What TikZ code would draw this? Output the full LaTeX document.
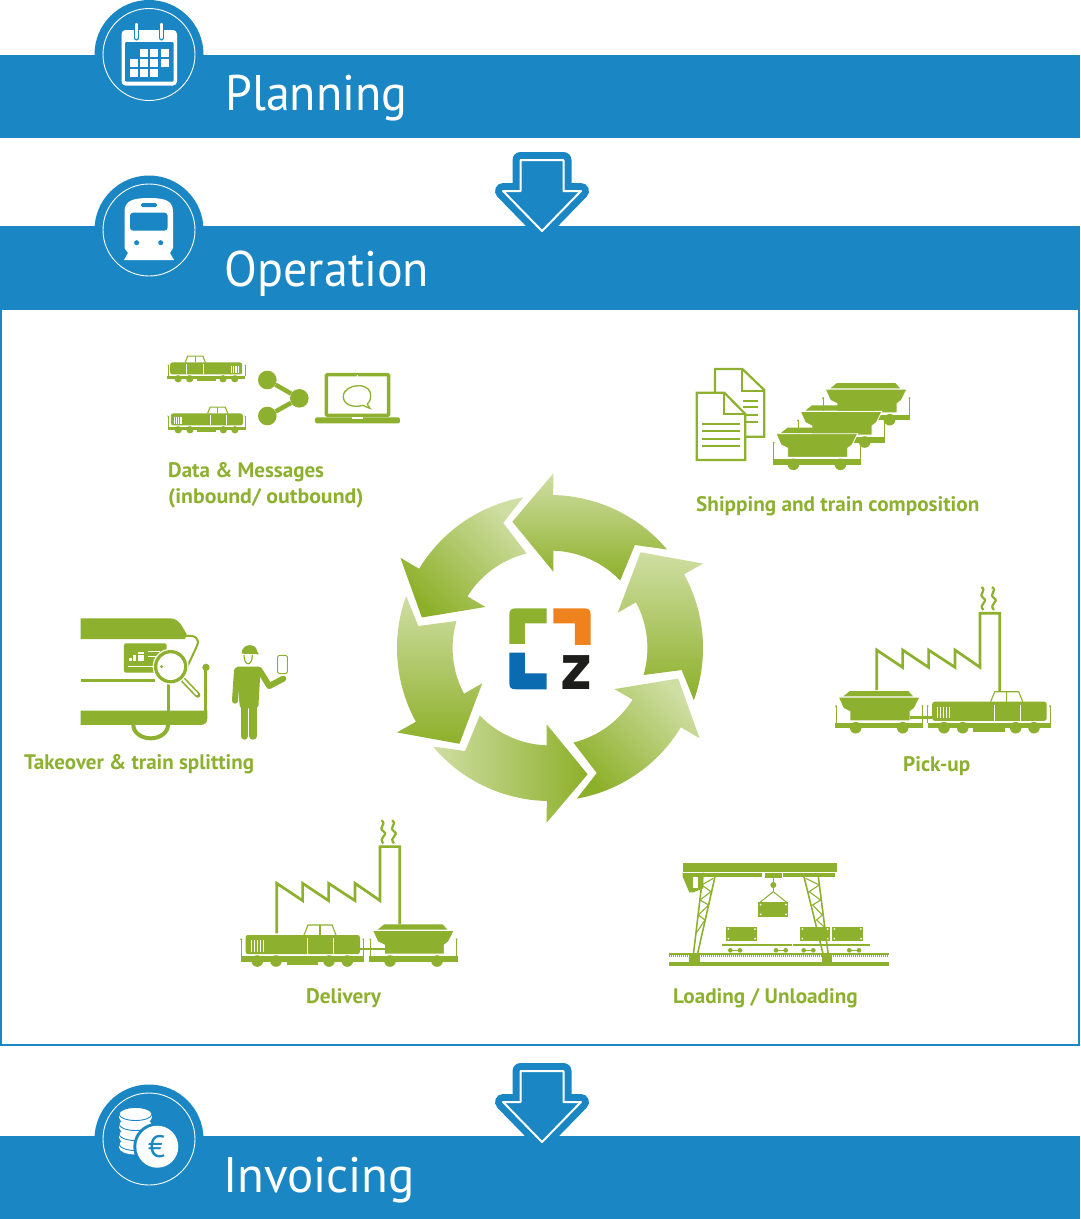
\documentclass[tikz,border=0pt]{standalone}
\usepackage{fontspec}
\setmainfont{PT Sans}
\newfontfamily\zfont{DejaVu Sans}
\usepackage{tikz}
\definecolor{lzblue}{RGB}{26,135,196}
\definecolor{lzgreen}{RGB}{141,176,46}
\definecolor{lzlight}{RGB}{207,222,163}
\definecolor{lzdark}{RGB}{141,176,42}
\definecolor{lzorange}{RGB}{240,130,30}
\definecolor{lzlogo}{RGB}{10,107,176}
\definecolor{lzblack}{RGB}{29,29,27}

\begin{document}
\begin{tikzpicture}[
  x=1pt, y=-1pt,
  hdrnode/.style={anchor=base west, inner sep=0pt, text=white, font=\fontsize{50}{50}\selectfont, xscale=0.96},
  lblnode/.style={anchor=base west, inner sep=0pt, text=lzgreen, font=\fontsize{21}{21}\selectfont\bfseries, xscale=1.01},
  barbox/.style={fill=lzblue},
  bubnode/.style={circle, fill=lzblue, minimum size=109pt, inner sep=0pt},
  ringnode/.style={circle, draw=white, line width=0.9pt, minimum size=92pt, inner sep=0pt},
  zoomed/.style={x=0.3333pt, y=-0.3333pt},
  downarw/.pic={
    \draw[lzblue, fill=lzblue, line width=16pt, line join=round]
      (-21.5,8) -- (21.5,8) -- (21.5,39) -- (39,39) -- (0,79) -- (-39,39) -- (-21.5,39) -- cycle;
    \draw[white, fill=lzblue, line width=2pt, line join=round]
      (-21.5,8) -- (21.5,8) -- (21.5,39) -- (39,39) -- (0,79) -- (-39,39) -- (-21.5,39) -- cycle;
  },
  loco/.pic={
    \fill[lzgreen, rounded corners=2.5pt] (5.5,-20) rectangle (120,-0.9);
    \fill[lzgreen] (1,0.9) rectangle (124.3,6.7);
    \fill[lzgreen] (46.7,6.7) rectangle (78,10);
    \foreach \wx in {17.3,36,89,107.3} {\fill[lzgreen] (\wx,6) circle[radius=5.8];}
    \foreach \wx in {1,123.3} {
      \draw[lzgreen, line width=0.8pt] (\wx,-15.7) -- (\wx,1.7);
      \fill[lzgreen] (\wx,-15.7) circle[radius=1];
    }
    \draw[lzgreen, line width=1.1pt] (64,-20) -- (68,-30) -- (92,-30) -- (96,-20);
    \draw[lzgreen, line width=1.1pt] (80,-30) -- (80,-20);
    \draw[white, line width=0.9pt] (67.7,-17) -- (67.7,-0.9);
    \draw[white, line width=0.9pt] (93.3,-17) -- (93.3,-0.9);
    \foreach \vx in {11,14,17,20,23} {\draw[white, line width=0.8pt] (\vx,-15) -- (\vx,-3.3);}
  },
  hopper/.pic={
    \draw[white, fill=lzgreen, line width=0.9pt] (3.3,-24.6) -- (85,-24.6) -- (79.3,-13.3) -- (75,-10) -- (75,-0.9)
      -- (15,-0.9) -- (15,-10) -- (8.3,-13.3) -- cycle;
    \fill[lzgreen] (15,-30.7) -- (73.3,-30.7) -- (78,-25.4) -- (8.3,-25.4) -- cycle;
    \fill[lzgreen] (0,0.9) rectangle (88.3,6.7);
    \foreach \wx in {20.7,67.7} {\fill[lzgreen] (\wx,6) circle[radius=5.8];}
    \foreach \wx in {1,87.3} {
      \draw[lzgreen, line width=0.8pt] (\wx,-15.7) -- (\wx,1.7);
      \fill[lzgreen] (\wx,-15.7) circle[radius=1];
    }
  },
  pics/factory/.style={code={
    \draw[lzgreen, line width=2.7pt, line join=miter] (0,#1) -- (0,0) -- (25.9,17.3) -- (25.9,0) -- (51.9,17.3) -- (51.9,0)
      -- (78.3,17.3) -- (78.3,0) -- (103.3,17.3) -- (103.3,-36.7) -- (123,-36.7) -- (123,41);
    \foreach \sx in {106.7,117.3} {
      \draw[lzgreen, line width=2.2pt] (\sx,-40) .. controls (\sx-6,-46) and (\sx+6,-48) .. (\sx,-52)
        .. controls (\sx-6,-56) and (\sx+4,-59) .. (\sx-2,-63);
    }
  }}
  ]

\useasboundingbox (0,0) rectangle (1080,1219);
\fill[white] (0,0) rectangle (1080,1219);

\draw[lzblue, line width=1.6pt] (1,309) rectangle (1079,1045);
\fill[barbox] (0,55) rectangle (1080,138);
\fill[barbox] (0,226) rectangle (1080,309);
\fill[barbox] (0,1136) rectangle (1080,1219);

\node[bubnode] (bub1) at (149,54.5) {};
\node[bubnode] (bub2) at (149,230) {};
\node[bubnode] (bub3) at (149,1139) {};
\node[ringnode] (ring1) at (bub1) {};
\node[ringnode] (ring2) at (bub2) {};
\node[ringnode] (ring3) at (bub3) {};

\node[hdrnode] (plan) at (225,110) {Planning};
\node[hdrnode] (oper) at (224.5,286.5) {Operation};
\node[hdrnode, xscale=1.02] (invo) at (223,1192.5) {Invoicing};

\pic at (542,152) {downarw};
\pic at (542,1063) {downarw};

\fill[white, rounded corners=4pt] (121.5,30) rectangle (177,85.5);
\fill[lzblue, rounded corners=1pt] (125,42) rectangle (173.5,81.5);
\foreach \cx/\cy in {140/49,150/49,160.5/49,130/59,140/59,150/59,160.5/59,130/69.3,140/69.3,150/69.3} {
  \fill[white] (\cx,\cy) rectangle (\cx+8.3,\cy+8);
}
\foreach \cx in {136.6,161.5} {
  \draw[lzblue, line width=5pt, line cap=round] (\cx,24) -- (\cx,38);
  \draw[white, line width=2.4pt, line cap=round] (\cx,24) -- (\cx,38);
}

\fill[white] (124.5,248) -- (124.5,212) .. controls (124.5,201) and (132,198) .. (149,198)
  .. controls (166,198) and (173,201) .. (173,212) -- (173,248) -- (170,253) -- (174,260) -- (124,260) -- (128,253) -- cycle;
\fill[lzblue, rounded corners=3pt] (130,212.7) rectangle (167.6,230.7);
\fill[lzblue, rounded corners=1.5pt] (141,203) rectangle (157,207);
\fill[lzblue] (136.6,242.7) circle[radius=2.5];
\fill[lzblue] (160.7,242.7) circle[radius=2.5];

\foreach \cy in {1144,1134,1124,1114} {
  \fill[white] (135.5,\cy+4) ellipse[x radius=16.2, y radius=6.5];
  \fill[white] (119.3,\cy) rectangle (151.7,\cy+4);
  \draw[lzblue, fill=white, line width=0.9pt] (135.5,\cy) ellipse[x radius=16.5, y radius=6.5];
}
\fill[lzblue] (157.3,1146.7) circle[radius=24];
\fill[white] (157.3,1146.7) circle[radius=21];
\node[text=lzblue, inner sep=0pt, font=\fontsize{31}{31}\selectfont] (euro) at (156.5,1146.7) {€};

\foreach \rot/\ang in {0/0,60/-45,120/0,180/90,240/-45,300/0} {
  \begin{scope}[shift={(550,648)}, x=1pt, y=1pt, rotate=\rot]
    \shade[top color=lzlight, bottom color=lzdark, shading angle=\ang]
      (40.1:153) arc[start angle=40.1, end angle=88.8, radius=153] -- (88.9:174.7) -- (106.6:131.8)
      -- (87.5:76.4) -- (88:97.4) arc[start angle=88, end angle=43.9, radius=97.4] -- (50.5:133.5) -- cycle;
  \end{scope}
}

\begin{scope}[shift={(380,460)}, zoomed]
  \fill[lzgreen] (388,552) -- (388,465) .. controls (388,450) and (393,445) .. (408,445) -- (500,445) -- (500,490)
    -- (435,490) -- (435,552) -- cycle;
  \fill[lzorange] (520,445) -- (612,445) .. controls (627,445) and (632,450) .. (632,465) -- (632,555) -- (585,555)
    -- (585,490) -- (520,490) -- cycle;
  \fill[lzlogo] (388,578) -- (435,578) -- (435,640) -- (500,640) -- (500,688) -- (408,688)
    .. controls (393,688) and (388,683) .. (388,668) -- cycle;
\end{scope}
\node[inner sep=0pt, text=lzblack, font=\zfont\bfseries\fontsize{62}{62}\selectfont, xscale=0.88] (zlet) at (576,673) {z};

\pic[xscale=-0.63, yscale=0.63] at (245.7,375) {loco};
\pic[xscale=0.63, yscale=0.63] at (167.3,426) {loco};

\begin{scope}[shift={(150,340)}, zoomed]
  \node[circle, fill=lzgreen, minimum size=18.6pt, inner sep=0pt] (sh1) at (352,120) {};
  \node[circle, fill=lzgreen, minimum size=18.6pt, inner sep=0pt] (sh2) at (448,175) {};
  \node[circle, fill=lzgreen, minimum size=18.6pt, inner sep=0pt] (sh3) at (352,228) {};
  \draw[lzgreen, line width=4.5pt] (sh1) -- (sh2) -- (sh3);
  \draw[lzgreen, line width=3.4pt, rounded corners=1pt] (529,104) rectangle (716,226);
  \fill[lzgreen, rounded corners=1.5pt] (495,232) rectangle (750,250);
  \fill[white] (605,232) rectangle (640,238);
  \fill[white] (622,108) circle[radius=3];
  \draw[lzgreen, line width=1.3pt] (660,205) .. controls (650,203) and (645,198) .. (640,196)
    .. controls (605,205) and (580,192) .. (580,170) .. controls (580,148) and (605,137) .. (625,137)
    .. controls (650,137) and (664,150) .. (662,170) .. controls (662,185) and (652,190) .. (652,193) -- cycle;
\end{scope}
\node[lblnode, xscale=0.99] (dm1) at (168,477) {Data \& Messages};
\node[lblnode, xscale=1.03] (dm2) at (168,503.5) {(inbound/ outbound)};

\begin{scope}[shift={(680,350)}, zoomed]
  \draw[lzgreen, line width=2.2pt, line join=miter] (105,127) -- (105,57) -- (187,57) -- (253,120) -- (253,260) -- (198,260);
  \draw[lzgreen, line width=2.2pt] (187,57) -- (187,122) -- (253,122);
  \foreach \dy in {152,172,195,216} {\draw[lzgreen, line width=1.9pt] (190,\dy) -- (235,\dy);}
  \draw[lzgreen, fill=white, line width=2.2pt, line join=miter] (50,128) -- (133,128) -- (196,192) -- (196,330) -- (50,330) -- cycle;
  \draw[lzgreen, line width=2.2pt] (133,128) -- (133,192) -- (196,192);
  \foreach \dy in {222,244,266,288} {\draw[lzgreen, line width=1.9pt] (67,\dy) -- (180,\dy);}
\end{scope}
\pic at (822,413.7) {hopper};
\pic at (797,436) {hopper};
\pic at (772.7,458.3) {hopper};
\node[lblnode] (ship) at (696,511) {Shipping and train composition};

\begin{scope}[shift={(20,600)}, zoomed]
  \fill[lzgreen] (182,55) -- (450,55) .. controls (475,55) and (485,75) .. (500,103) -- (495,117) -- (182,117) -- cycle;
  \draw[lzgreen, line width=2pt] (495,108) .. controls (525,104) and (542,115) .. (530,140) -- (495,215);
  \fill[lzgreen, rounded corners=1.5pt] (312,130) rectangle (440,218);
  \foreach \gx/\gy in {327/175,340/165,340/175,353/155,353/165,353/175,364/155,364/165,364/175} {
    \fill[white] (\gx,\gy) rectangle (\gx+9,\gy+8);
  }
  \draw[white, line width=1pt] (385,155) -- (420,155);
  \draw[white, line width=1pt] (385,170) -- (410,170);
  \draw[white, line width=1pt] (325,200) -- (405,200);
  \draw[lzgreen, line width=3pt] (182,242) -- (405,242);
  \draw[lzgreen, line width=3pt] (447,245) -- (447,335);
  \draw[lzgreen, line width=3pt] (558,205) -- (558,335);
  \fill[lzgreen] (558,202) circle[radius=11];
  \fill[lzgreen] (182,332) -- (562,332) -- (562,355) .. controls (562,368) and (555,375) .. (540,375) -- (182,375) -- cycle;
  \draw[lzgreen, line width=4pt] (340,375) arc[start angle=180, end angle=360, x radius=52, y radius=-40];
  \draw[white, line width=7pt, line cap=round] (487,237) -- (533,285);
  \draw[lzgreen, line width=5.5pt, line cap=round] (487,237) -- (533,285);
  \draw[white, line width=2.2pt, line cap=round] (490,240) -- (531,283);
  \fill[white] (452,200) circle[radius=54];
  \fill[lzgreen] (452,200) circle[radius=50];
  \fill[white] (452,200) circle[radius=40];
  \fill[lzgreen] (425,200) circle[radius=5];
  \fill[lzgreen] (665,161) .. controls (665,128) and (710,128) .. (712,155) -- (717,163) -- cycle;
  \draw[lzgreen, line width=1.2pt] (672,165) .. controls (672,200) and (697,200) .. (697,165);
  \fill[lzgreen, rounded corners=2pt] (648,200) -- (722,200) -- (715,325) -- (660,325) -- cycle;
  \draw[lzgreen, line width=7.5pt, line cap=round] (673,320) -- (673,408);
  \draw[lzgreen, line width=7.5pt, line cap=round] (699,320) -- (699,408);
  \draw[lzgreen, line width=6pt, line cap=round, line join=round] (651,212) -- (645,302);
  \draw[lzgreen, line width=6pt, line cap=round, line join=round] (718,210) -- (748,258) -- (790,236);
  \draw[lzgreen, line width=1pt, rounded corners=1.5pt] (773,166) rectangle (802,221);
\end{scope}
\node[lblnode, xscale=0.99] (take) at (24,769.5) {Takeover \& train splitting};

\pic at (876.7,650) {factory=40};
\pic at (835,721.7) {hopper};
\pic at (926.7,721.7) {loco};
\fill[lzgreen] (910,716) rectangle (932,718.7);
\node[lblnode] (pick) at (903,771) {Pick-up};

\pic at (276.7,883.3) {factory=50};
\pic at (240,955) {loco};
\pic at (369.3,955) {hopper};
\fill[lzgreen] (359,947.7) rectangle (385,950.4);
\node[lblnode] (deli) at (306,1003) {Delivery};

\begin{scope}[shift={(660,850)}, zoomed]
  \fill[lzgreen] (68,38) rectangle (530,65);
  \fill[lzgreen] (72,70) rectangle (305,80);
  \fill[lzgreen] (370,70) rectangle (525,80);
  \fill[lzgreen] (68,65) -- (130,65) -- (130,115) -- (100,127) -- (88,127) -- (68,80) -- cycle;
  \fill[white] (68,66) rectangle (130,69);
  \fill[white] (100,82) rectangle (115,115);
  \fill[lzgreen] (315,68) rectangle (365,85);
  \draw[lzgreen, line width=1.4pt] (340,85) -- (340,125);
  \fill[lzgreen] (340,105) circle[radius=9];
  \draw[lzgreen, line width=1pt] (300,157) -- (340,125) -- (380,157);
  \foreach \bx/\by/\bw in {295/157/90,198/230/94,420/230/90,516/230/94} {
    \fill[lzgreen] (\bx,\by) rectangle (\bx+\bw,\by+43);
    \foreach \dx/\dy in {7/7,7/36} {
      \fill[white] (\bx+\dx,\by+\dy) circle[radius=3];
      \fill[white] (\bx+\bw-\dx,\by+\dy) circle[radius=3];
    }
  }
  \draw[lzgreen, line width=2pt] (185,284) -- (395,284);
  \draw[lzgreen, line width=2pt] (400,284) -- (630,284);
  \foreach \wa/\wb in {211/240,348/377,431/460,568/597} {
    \draw[lzgreen, line width=0.7pt] (\wa,301) -- (\wb,301);
    \fill[lzgreen] (\wa,301) circle[radius=7];
    \fill[lzgreen] (\wb,301) circle[radius=7];
  }
  \draw[lzgreen, line width=1.6pt] (128,80) -- (100,315);
  \draw[lzgreen, line width=1.6pt] (165,80) -- (112,315);
  \draw[lzgreen, line width=1.1pt] (160,85) -- (125,105) -- (153,125) -- (120,150) -- (146,165) -- (115,195) -- (135,210) -- (108,250);
  \draw[lzgreen, line width=1.6pt] (432,80) -- (490,315);
  \draw[lzgreen, line width=1.6pt] (475,80) -- (505,315);
  \draw[lzgreen, line width=1.1pt] (437,85) -- (478,105) -- (447,125) -- (482,150) -- (458,165) -- (487,195) -- (470,210) -- (492,230);
  \draw[lzgreen, line width=1.2pt] (28,312) -- (688,312);
  \draw[lzgreen, line width=2pt, dash pattern=on 1pt off 1pt] (28,318) -- (688,318);
  \fill[lzgreen] (28,335) rectangle (688,348);
  \fill[lzgreen] (88,315) rectangle (120,345);
  \fill[lzgreen] (487,315) rectangle (517,345);
\end{scope}
\node[lblnode] (load) at (673,1003) {Loading / Unloading};

\end{tikzpicture}
\end{document}
